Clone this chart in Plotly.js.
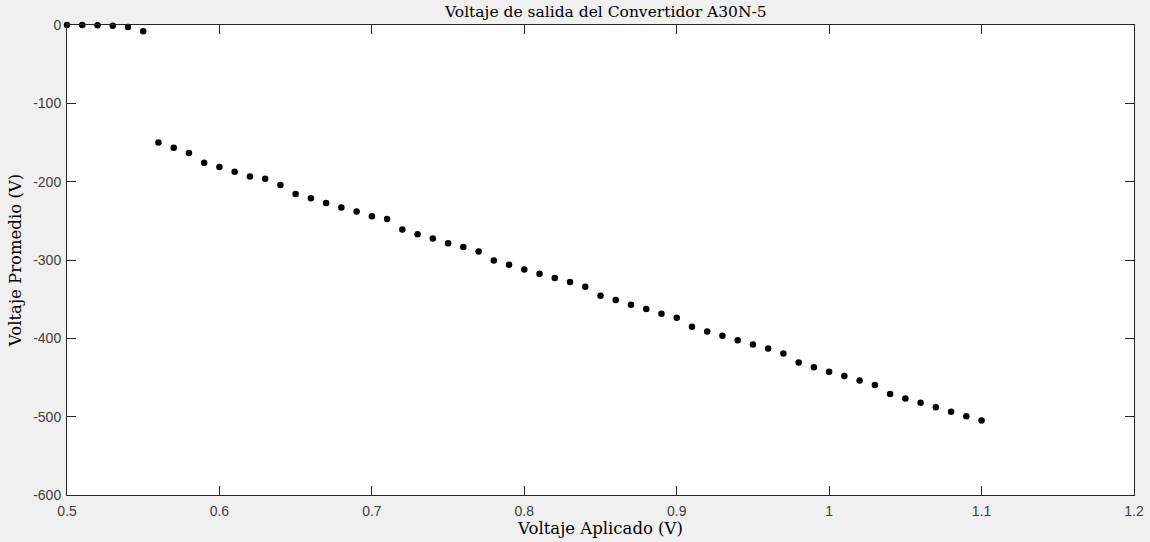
<!DOCTYPE html>
<html>
<head>
<meta charset="utf-8">
<script src="https://cdn.plot.ly/plotly-3.0.1.min.js"></script>
<style>
html,body{margin:0;padding:0;background:#f0f0f0;}
#chart{width:1150px;height:542px;}
</style>
</head>
<body>
<div id="chart"></div>
<script>
const voltajeAplicado = [0.50,0.51,0.52,0.53,0.54,0.55,0.56,0.57,0.58,0.59,0.60,0.61,0.62,0.63,0.64,0.65,0.66,0.67,0.68,0.69,0.70,0.71,0.72,0.73,0.74,0.75,0.76,0.77,0.78,0.79,0.80,0.81,0.82,0.83,0.84,0.85,0.86,0.87,0.88,0.89,0.90,0.91,0.92,0.93,0.94,0.95,0.96,0.97,0.98,0.99,1.00,1.01,1.02,1.03,1.04,1.05,1.06,1.07,1.08,1.09,1.10];
const voltajePromedio = [0,0,-0.4,-1,-2.5,-8,-150,-156.7,-163.5,-175.9,-181.4,-187.4,-193.3,-196.3,-204.3,-215.8,-221.3,-227.3,-232.9,-238,-244,-247.8,-261,-267,-272.5,-278.7,-283.5,-289,-300.5,-306,-312,-317.6,-323,-328.2,-334,-345.7,-351.2,-357.2,-362.7,-368.7,-373.8,-385.3,-391.2,-396.8,-402.3,-407.8,-412.9,-419.4,-431,-437,-442.6,-448.2,-453.7,-459.7,-471.2,-476.7,-482.2,-487.9,-493.8,-499.4,-504.9];
const xTicks = [0.5,0.6,0.7,0.8,0.9,1,1.1,1.2];
const xTickText = ['0.5','0.6','0.7','0.8','0.9','1','1.1','1.2'];
const yTicks = [-600,-500,-400,-300,-200,-100,0];
const yTickText = ['-600','-500','-400','-300','-200','-100','0'];

const serif = '"DejaVu Serif", "Liberation Serif", serif';
const sans = '"Liberation Sans", Arial, Helvetica, sans-serif';

const trace = {
  x: voltajeAplicado,
  y: voltajePromedio,
  mode: 'markers',
  type: 'scatter',
  marker: {color: '#000000', size: 6.5},
  cliponaxis: false,
  hoverinfo: 'x+y'
};

const axisCommon = {
  showgrid: false,
  zeroline: false,
  showline: true,
  linecolor: '#262626',
  linewidth: 1,
  mirror: 'ticks',
  ticks: 'inside',
  ticklen: 9,
  tickwidth: 1,
  tickcolor: '#262626',
  tickfont: {family: sans, size: 14, color: '#404040'}
};

const layout = {
  width: 1150,
  height: 542,
  paper_bgcolor: '#f0f0f0',
  plot_bgcolor: '#ffffff',
  margin: {l: 67, r: 16, t: 25, b: 47},
  showlegend: false,
  title: {
    text: 'Voltaje de salida del Convertidor A30N-5',
    font: {family: serif, size: 15.5, color: '#000000'},
    x: 0.505, xref: 'paper', xanchor: 'center',
    y: 0.988, yref: 'container', yanchor: 'top'
  },
  xaxis: Object.assign({}, axisCommon, {
    range: [0.5, 1.2],
    tickmode: 'array',
    tickvals: xTicks,
    ticktext: xTickText,
    ticklabelstandoff: 3,
    title: {text: 'Voltaje Aplicado (V)', font: {family: serif, size: 16.5, color: '#000000'}, standoff: 4}
  }),
  yaxis: Object.assign({}, axisCommon, {
    range: [-600, 0],
    tickmode: 'array',
    tickvals: yTicks,
    ticktext: yTickText,
    ticklabelstandoff: 2,
    title: {text: 'Voltaje Promedio (V)', font: {family: serif, size: 16.5, color: '#000000'}, standoff: 7}
  })
};

Plotly.newPlot('chart', [trace], layout, {displayModeBar: false, staticPlot: true});
</script>
</body>
</html>
